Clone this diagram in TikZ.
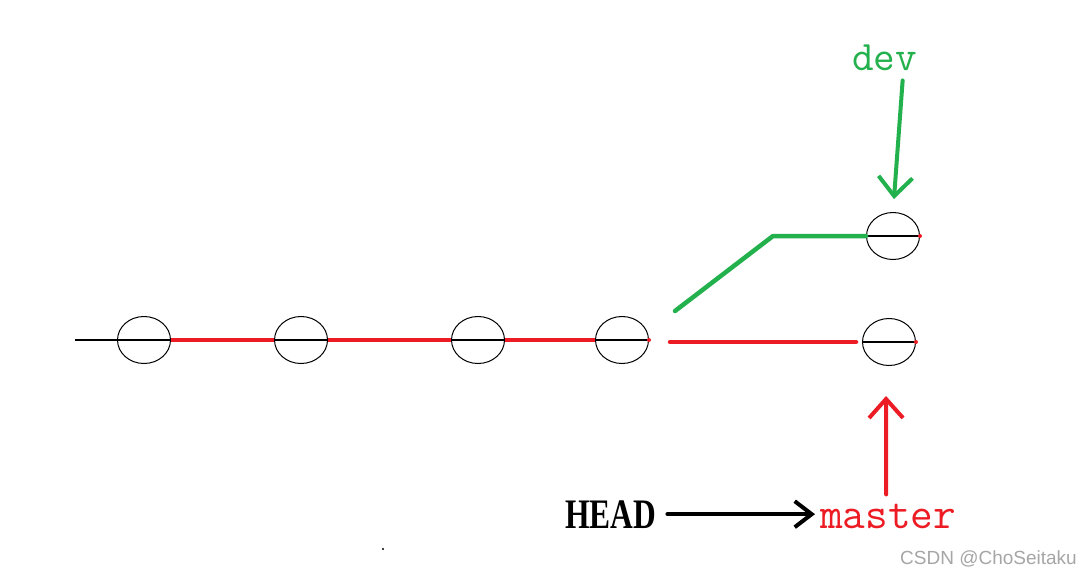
\documentclass[tikz,border=0pt]{standalone}
\usepackage{fontspec}
\setmainfont{Liberation Serif}
\newfontfamily\sansf{Liberation Sans}
\usetikzlibrary{shapes.geometric,arrows.meta}
\definecolor{pred}{RGB}{237,28,36}
\definecolor{pgreen}{RGB}{34,177,76}
\begin{document}
\begin{tikzpicture}[x=1pt,y=-1pt,
 commit/.style={ellipse,draw=black,line width=1pt,minimum width=53pt,minimum height=47pt,inner sep=0pt},
 axis/.style={black,line width=1.3pt},
 redline/.style={pred,line width=4.5pt},
 greenline/.style={pgreen,line width=4.5pt,line cap=round,line join=round},
 ptr/.style={line width=4pt,line cap=round,-{Straight Barb[length=19pt,width=34pt,line width=4pt]}},
 lbl/.style={anchor=base west,inner sep=0pt}
]
\useasboundingbox[fill=white] (0,0) rectangle (1085,576);
% commits
\node[commit] (c1) at (144,340) {};
\node[commit] (c2) at (301,340) {};
\node[commit] (c3) at (478,340) {};
\node[commit] (c4) at (622,340) {};
\node[commit] (c5) at (893,236) {};
\node[commit] (c6) at (889,342) {};
\coordinate (start) at (75,340);
\coordinate (gstart) at (675,311);
\coordinate (gbend) at (773,236);
\coordinate (rstart) at (670,342);
% lines through commits
\draw[axis] (start) -- (c1.west);
\foreach \c in {c1,c2,c3,c4,c5,c6}{\draw[axis] (\c.west) -- (\c.east);}
% red master line
\draw[redline] (c1.east) -- (c2.west);
\draw[redline] (c2.east) -- (c3.west);
\draw[redline] (c3.east) -- (c4.west);
\draw[redline,line cap=round] (rstart) -- ([xshift=-6pt]c6.west);
\fill[pred] (c4.east) circle (2pt);
\fill[pred] (c5.east) circle (2pt);
\fill[pred] (c6.east) circle (2pt);
% green dev line
\draw[greenline] (gstart) -- (gbend) -- (c5.west);
% labels
\node[lbl,text=pgreen,font=\ttfamily\fontsize{42}{42}\selectfont] (dev) at (852,70) {dev};
\node[lbl,text=pred,font=\ttfamily\fontsize{44}{44}\selectfont] (master) at (820,528) {master};
\node[lbl,text=black,font=\bfseries\fontsize{42}{42}\selectfont] (head) at (565,528) {\scalebox{0.75}[1]{HEAD}};
% pointers
\draw[ptr,pgreen,shorten >=13pt] ([xshift=18pt,yshift=-10pt]dev.south) -- (c5.north);
\draw[ptr,pred,shorten <=9pt,shorten >=30pt] ([xshift=-2pt]master.north) -- ([xshift=-3pt]c6.south);
\draw[ptr,black,shorten <=11pt,shorten >=5pt,-{Straight Barb[length=17pt,width=26pt,line width=4pt]}] (head.east) -- (head.east -| master.west);
% watermark and speck
\node[lbl,text=black!35,font=\sansf\fontsize{19}{19}\selectfont] (wm) at (900,564) {CSDN @ChoSeitaku};
\fill[black] (383,549) circle (1.2pt);
\end{tikzpicture}
\end{document}
